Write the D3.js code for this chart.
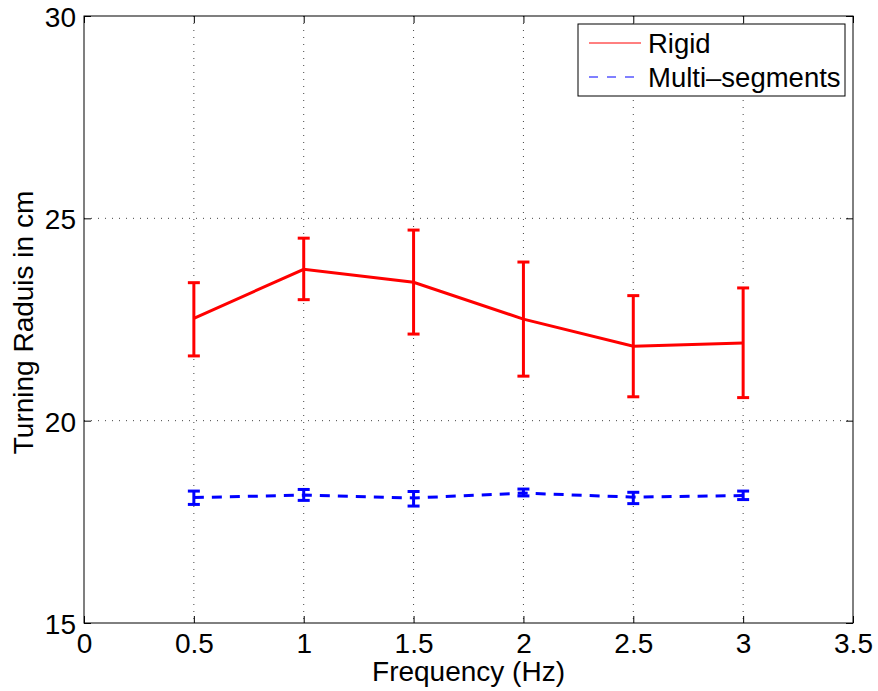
<!DOCTYPE html>
<html>
<head>
<meta charset="utf-8">
<script src="https://cdn.jsdelivr.net/npm/d3@7"></script>
<style>
  body { margin: 0; background: #fff; }
  text { font-family: "Liberation Sans", Arial, sans-serif; }
</style>
</head>
<body>
<div id="chart"></div>
<script>
(function () {
  var width = 878, height = 691;
  var margin = {top: 16, right: 25, bottom: 68, left: 84};
  var fs = "28px";

  // data
  var freqs = [0.5, 1, 1.5, 2, 2.5, 3];
  var rigidMean = [22.53, 23.74, 23.42, 22.51, 21.84, 21.92];
  var rigidLow  = [21.60, 22.99, 22.14, 21.10, 20.59, 20.57];
  var rigidHigh = [23.41, 24.51, 24.71, 23.92, 23.09, 23.28];
  var multiMean = [18.10, 18.16, 18.09, 18.21, 18.11, 18.15];
  var multiLow  = [17.93, 18.03, 17.89, 18.14, 17.95, 18.05];
  var multiHigh = [18.26, 18.30, 18.25, 18.31, 18.23, 18.26];
  var xTicks = [0, 0.5, 1, 1.5, 2, 2.5, 3, 3.5];
  var yTicks = [15, 20, 25, 30];

  var series = [
    {name: "Rigid", color: "#ff0000", dash: null, legendDash: null,
     mean: rigidMean, low: rigidLow, high: rigidHigh},
    {name: "Multi\u2013segments", color: "#0000ff", dash: "10,8", legendDash: "9,9",
     mean: multiMean, low: multiLow, high: multiHigh}
  ];

  var w = width - margin.left - margin.right;
  var h = height - margin.top - margin.bottom;

  var x = d3.scaleLinear().domain([0, 3.5]).range([0, w]);
  var y = d3.scaleLinear().domain([15, 30]).range([h, 0]);

  var svg = d3.select("#chart").append("svg")
    .attr("width", width)
    .attr("height", height);
  var g = svg.append("g")
    .attr("transform", "translate(" + margin.left + "," + margin.top + ")");

  // dotted grid
  g.append("g").selectAll("line").data(xTicks.slice(1, -1)).join("line")
    .attr("x1", function (d) { return x(d); }).attr("x2", function (d) { return x(d); })
    .attr("y1", 0).attr("y2", h)
    .attr("stroke", "#444").attr("stroke-width", 1).attr("stroke-dasharray", "1,6");
  g.append("g").selectAll("line").data(yTicks.slice(1, -1)).join("line")
    .attr("y1", function (d) { return y(d); }).attr("y2", function (d) { return y(d); })
    .attr("x1", 0).attr("x2", w)
    .attr("stroke", "#444").attr("stroke-width", 1).attr("stroke-dasharray", "1,6");

  // axes, ticks inward, on all four sides
  var tl = 7;
  var xb = g.append("g").attr("transform", "translate(0," + h + ")")
    .call(d3.axisBottom(x).tickValues(xTicks).tickSize(-tl).tickPadding(0)
      .tickFormat(d3.format("")));
  var yl = g.append("g")
    .call(d3.axisLeft(y).tickValues(yTicks).tickSize(-tl).tickPadding(0));
  g.append("g").call(d3.axisTop(x).tickValues(xTicks).tickSize(-tl).tickFormat(""));
  g.append("g").attr("transform", "translate(" + w + ",0)")
    .call(d3.axisRight(y).tickValues(yTicks).tickSize(-tl).tickFormat(""));
  g.selectAll(".domain").remove();
  g.selectAll(".tick line").attr("stroke", "#000");
  g.selectAll(".tick text").attr("fill", "#000").style("font-size", fs);
  xb.selectAll(".tick text").attr("y", 30).attr("dy", 0);
  yl.selectAll(".tick text").attr("x", -8).attr("dy", "0.38em");

  g.append("rect").attr("width", w).attr("height", h)
    .attr("fill", "none").attr("stroke", "#000").attr("stroke-width", 1);

  // series
  var line = d3.line()
    .x(function (d) { return x(d.f); })
    .y(function (d) { return y(d.m); });
  var cap = 6;

  series.forEach(function (s) {
    var pts = freqs.map(function (f, i) {
      return {f: f, m: s.mean[i], lo: s.low[i], hi: s.high[i]};
    });
    var sg = g.append("g");
    sg.append("path").datum(pts)
      .attr("d", line)
      .attr("fill", "none")
      .attr("stroke", s.color)
      .attr("stroke-width", 3)
      .attr("stroke-dasharray", s.dash);
    var eb = sg.selectAll(".eb").data(pts).join("g")
      .attr("stroke", s.color).attr("stroke-width", 3);
    eb.append("line")
      .attr("x1", function (d) { return x(d.f); }).attr("x2", function (d) { return x(d.f); })
      .attr("y1", function (d) { return y(d.lo); }).attr("y2", function (d) { return y(d.hi); });
    eb.append("line")
      .attr("x1", function (d) { return x(d.f) - cap; }).attr("x2", function (d) { return x(d.f) + cap; })
      .attr("y1", function (d) { return y(d.lo); }).attr("y2", function (d) { return y(d.lo); });
    eb.append("line")
      .attr("x1", function (d) { return x(d.f) - cap; }).attr("x2", function (d) { return x(d.f) + cap; })
      .attr("y1", function (d) { return y(d.hi); }).attr("y2", function (d) { return y(d.hi); });
  });

  // axis labels
  svg.append("text")
    .attr("x", margin.left + w / 2).attr("y", 681)
    .attr("text-anchor", "middle").style("font-size", fs)
    .text("Frequency (Hz)");
  svg.append("text")
    .attr("transform", "translate(33," + (margin.top + h / 2 + 3) + ") rotate(-90)")
    .attr("text-anchor", "middle").style("font-size", fs)
    .text("Turning Raduis in cm");

  // legend
  var lg = svg.append("g").attr("transform", "translate(578,24)");
  lg.append("rect").attr("width", 267).attr("height", 72)
    .attr("fill", "#fff").attr("stroke", "#000").attr("stroke-width", 1);
  series.forEach(function (s, i) {
    var cy = 19 + i * 34;
    lg.append("line").attr("x1", 11).attr("x2", 63)
      .attr("y1", cy).attr("y2", cy)
      .attr("stroke", s.color).attr("stroke-width", 1)
      .attr("stroke-dasharray", s.legendDash);
    lg.append("text").attr("x", 70).attr("y", cy + 10)
      .style("font-size", "27.5px").text(s.name);
  });
})();
</script>
</body>
</html>
